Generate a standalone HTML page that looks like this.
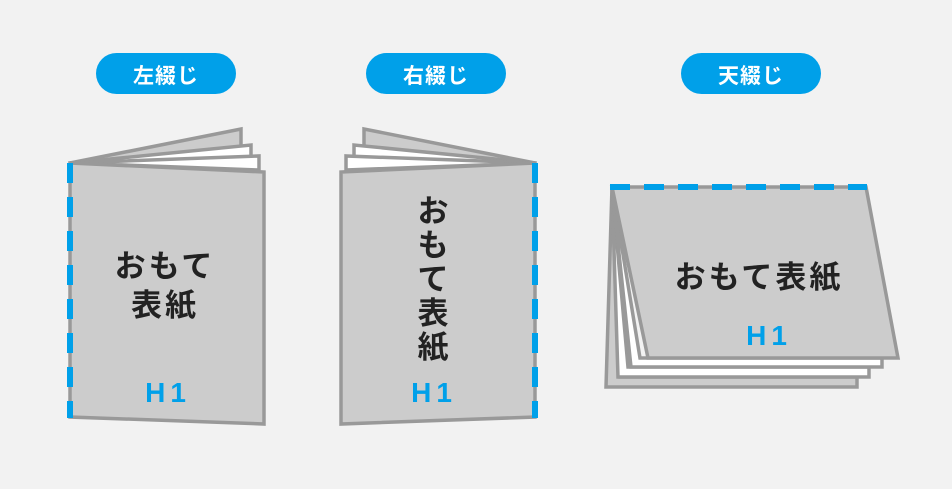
<!DOCTYPE html>
<html><head><meta charset="utf-8"><style>
html,body{margin:0;padding:0;background:#f2f2f2;}
svg text{font-family:"Liberation Sans","Noto Sans CJK JP",sans-serif;font-weight:bold;}
</style></head><body>
<svg width="952" height="484" viewBox="0 0 952 484" xmlns="http://www.w3.org/2000/svg">
<rect width="952" height="484" fill="#f2f2f2"/>
<rect x="96" y="53" width="140" height="41" rx="20.5" fill="#00a0e9"/>
<text x="166" y="83" font-size="21" fill="#fff" text-anchor="middle" letter-spacing="1">左綴じ</text>
<rect x="366" y="53" width="140" height="41" rx="20.5" fill="#00a0e9"/>
<text x="436" y="83" font-size="21" fill="#fff" text-anchor="middle" letter-spacing="1">右綴じ</text>
<rect x="681" y="53" width="140" height="41" rx="20.5" fill="#00a0e9"/>
<text x="751" y="83" font-size="21" fill="#fff" text-anchor="middle" letter-spacing="1">天綴じ</text>

<g stroke="#999" stroke-width="3.5" stroke-linejoin="miter">
<polygon points="70,163 241,129 241,150" fill="#ccc"/>
<polygon points="70,163 251,145 251,160" fill="#fff"/>
<polygon points="70,163 259,156 259,170" fill="#fff"/>
<polygon points="70,163 264,172 264,424 70,417" fill="#ccc"/>
<polygon points="535,163 364,129 364,150" fill="#ccc"/>
<polygon points="535,163 354,145 354,160" fill="#fff"/>
<polygon points="535,163 346,156 346,170" fill="#fff"/>
<polygon points="535,163 341,172 341,424 535,417" fill="#ccc"/>
<polygon points="612,187 606,387 857,387 857,377 620,377" fill="#ccc"/>
<polygon points="612,187 618,377 869,377 869,367 628,367" fill="#fff"/>
<polygon points="612,187 631,367 882,367 882,358 640,358" fill="#fff"/>
<polygon points="612,187 866,187 898,358 648,358" fill="#ccc"/>
</g>
<g stroke="#00a0e9" stroke-width="6" stroke-dasharray="20,14" fill="none">
<line x1="70" y1="163" x2="70" y2="418"/>
<line x1="535" y1="163" x2="535" y2="418"/>
<line x1="610" y1="187" x2="867" y2="187"/>
</g>
<g fill="#222" font-size="31">
<text x="165" y="277" text-anchor="middle" letter-spacing="3">おもて</text>
<text x="165" y="316" text-anchor="middle" letter-spacing="3">表紙</text>
<text x="433" y="222" text-anchor="middle">お</text>
<text x="433" y="256" text-anchor="middle">も</text>
<text x="433" y="290" text-anchor="middle">て</text>
<text x="433" y="324" text-anchor="middle">表</text>
<text x="433" y="358" text-anchor="middle">紙</text>
<text x="759" y="288" text-anchor="middle" letter-spacing="3">おもて表紙</text>
</g>
<g fill="#00a0e9" font-size="28">
<text x="168" y="402" text-anchor="middle" letter-spacing="5">H1</text>
<text x="434" y="402" text-anchor="middle" letter-spacing="5">H1</text>
<text x="769" y="345" text-anchor="middle" letter-spacing="5">H1</text>
</g>
</svg>
</body></html>
